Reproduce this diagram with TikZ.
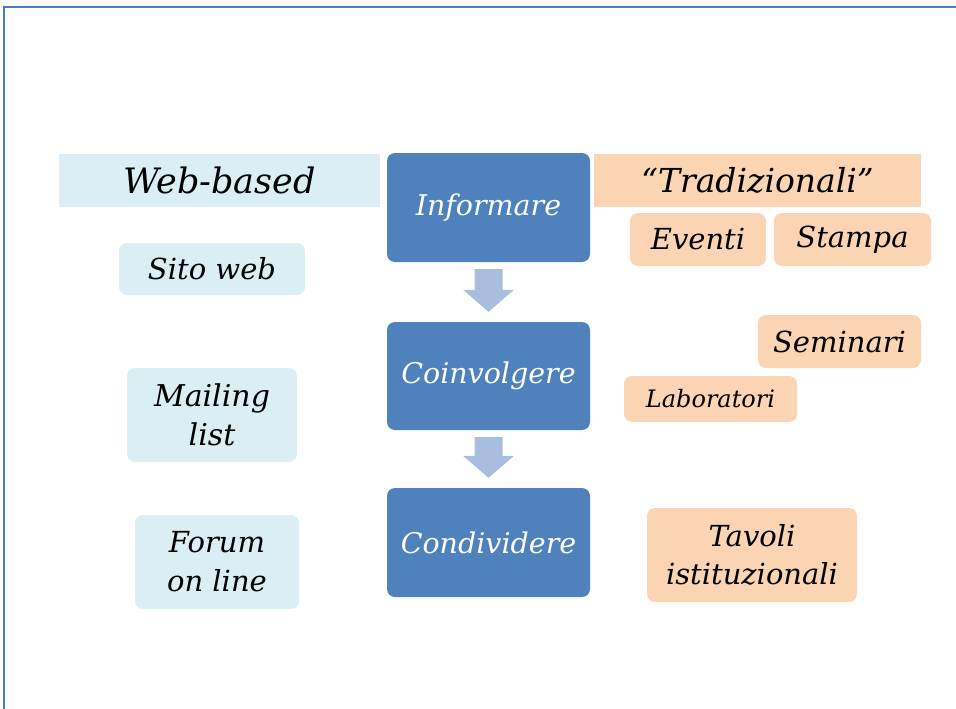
\documentclass[tikz,border=0pt]{standalone}
\usepackage{fontspec}
\setmainfont{DejaVu Serif}
\usetikzlibrary{calc}
\definecolor{frameblue}{HTML}{4A7EBB}
\definecolor{stepblue}{HTML}{4F81BD}
\definecolor{arrowblue}{HTML}{A9BDDC}
\definecolor{webfill}{HTML}{DAEEF3}
\definecolor{tradfill}{HTML}{FBD4B4}
\tikzset{
  header/.style={inner sep=0pt, font=\itshape\fontsize{35}{40}\selectfont, text=black},
  stepbox/.style={fill=stepblue, rounded corners=8pt, inner sep=0pt, text=white,
    font=\itshape\fontsize{28.5}{33}\selectfont},
  webbox/.style={fill=webfill, rounded corners=8pt, inner sep=0pt, text=black, align=center,
    font=\itshape\fontsize{29}{39}\selectfont},
  tradbox/.style={fill=tradfill, rounded corners=8pt, inner sep=0pt, text=black, align=center,
    font=\itshape\fontsize{29}{38}\selectfont},
}
% broad block arrow between two stacked steps
\newcommand{\flowarrow}[2]{%
  \fill[arrowblue] ($(#1.south)+(-14,7)$) -- ($(#1.south)+(14,7)$)
    -- ($(#2.north)+(14,-32)$) -- ($(#2.north)+(25.5,-32)$)
    -- ($(#2.north)+(0,-10)$)
    -- ($(#2.north)+(-25.5,-32)$) -- ($(#2.north)+(-14,-32)$) -- cycle;}
\begin{document}
\begin{tikzpicture}[x=1pt,y=-1pt]
\useasboundingbox (0,0) rectangle (956,709);
% page frame
\draw[frameblue, line width=2pt] (4,709) -- (4,7) -- (956,7);

% column headers
\node[header, fill=webfill, minimum width=321pt, minimum height=53pt] (web) at (219.5,180.5) {Web-based};
\node[header, fill=tradfill, minimum width=327pt, minimum height=53pt] (trad) at (757.5,180.5) {\fontsize{33}{38}\selectfont``Tradizionali''};

% central steps
\node[stepbox, minimum width=203pt, minimum height=109pt] (inf) at (488.5,207.5) {Informare};
\node[stepbox, minimum width=203pt, minimum height=108pt] (coin) at (488.5,376) {Coinvolgere};
\node[stepbox, minimum width=203pt, minimum height=109pt] (cond) at (488.5,542.5) {Condividere};
\flowarrow{inf}{coin}
\flowarrow{coin}{cond}

% web-based channels
\node[webbox, minimum width=186pt, minimum height=52pt] (sito) at (212,269) {Sito web};
\node[webbox, minimum width=170pt, minimum height=94pt, font=\itshape\fontsize{30}{39}\selectfont] (mail) at (212,415) {Mailing\\list};
\node[webbox, minimum width=164pt, minimum height=94pt] (forum) at (217,562) {Forum\\on line};

% traditional channels
\node[tradbox, minimum width=136pt, minimum height=53pt] (eventi) at (698,239.5) {Eventi};
\node[tradbox, minimum width=157pt, minimum height=53pt] (stampa) at (852.5,239.5) {Stampa};
\node[tradbox, minimum width=163pt, minimum height=53pt] (semin) at (839.5,341.5) {Seminari};
\node[tradbox, minimum width=173pt, minimum height=46pt, font=\itshape\fontsize{24}{28}\selectfont] (lab) at (710.5,399) {Laboratori};
\node[tradbox, minimum width=210pt, minimum height=94pt] (tavoli) at (752,555) {Tavoli\\istituzionali};
\end{tikzpicture}
\end{document}
